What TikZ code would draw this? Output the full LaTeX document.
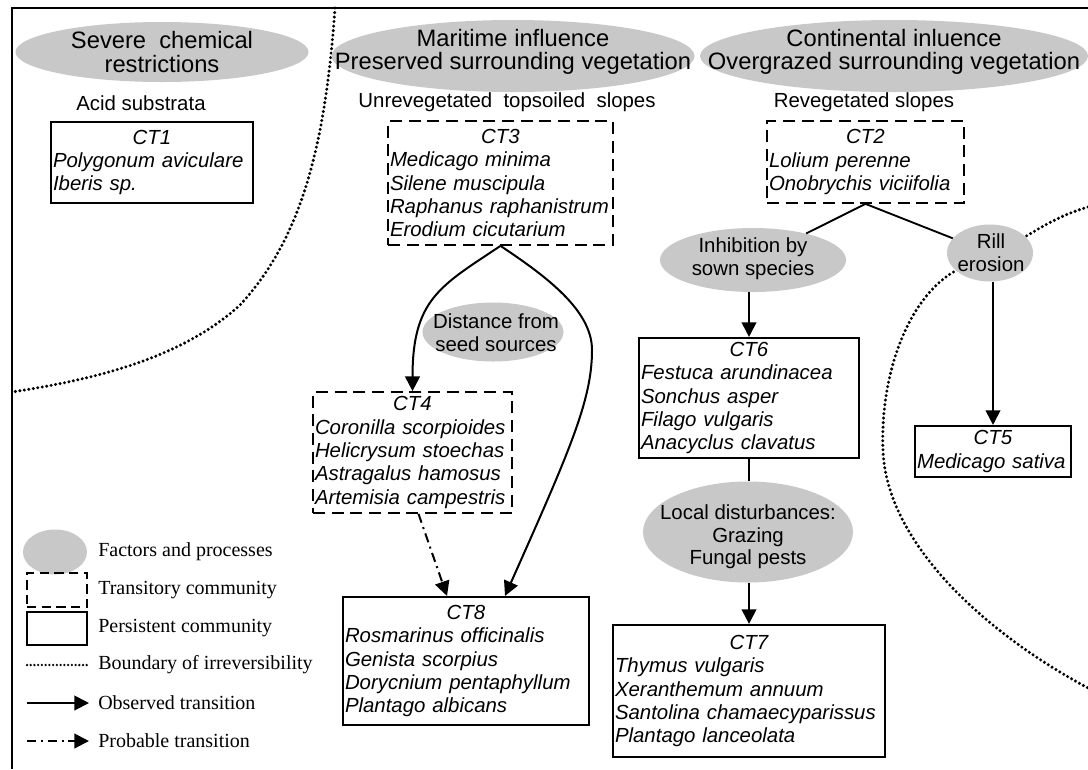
\documentclass[tikz,border=0pt]{standalone}
\usepackage{fontspec}
\setmainfont{Liberation Sans}
\newfontfamily\serifleg{Liberation Serif}
\usetikzlibrary{arrows.meta,shapes.geometric}
\definecolor{ellgray}{RGB}{200,200,200}
\newcommand\fBody{\fontsize{15.3}{17.5}\selectfont}
\newcommand\fTitle{\fontsize{17.8}{17.3}\selectfont}
\newcommand\fLab{\fontsize{15.3}{17.2}\selectfont}
\newcommand\fLoc{\fontsize{15.3}{16.8}\selectfont}
\newcommand\fLeg{\serifleg\fontsize{15}{18}\selectfont}
\newcommand\ctlabel[1]{\hspace*{\fill}#1\hspace*{\fill}\mbox{}}
\tikzset{
  frameline/.style={line width=2.2pt},
  solidbox/.style={draw, line width=1.6pt, rectangle, inner xsep=1.5pt, inner ysep=0pt, align=left, font=\fBody\itshape},
  dashbox/.style={solidbox, line width=1.3pt, dash pattern=on 9pt off 5pt},
  factor/.style={ellipse, fill=ellgray, draw=none, inner sep=0pt},
  titlelab/.style={align=center, font=\fTitle, inner sep=0pt},
  flab/.style={align=center, font=\fLab, inner sep=0pt},
  sublab/.style={font=\fBody, inner sep=0pt},
  conn/.style={line width=1.4pt},
  obs/.style={line width=1.5pt, -{Triangle[length=11pt,width=11pt]}},
  prob/.style={line width=1.5pt, dash pattern=on 7pt off 3.5pt on 1.5pt off 3.5pt, -{Triangle[length=11pt,width=11pt]}},
  boundary/.style={line width=2.5pt, dash pattern=on 0pt off 3.4pt, line cap=round},
  legdots/.style={line width=1.9pt, dash pattern=on 0pt off 2.8pt, line cap=round},
  legtext/.style={anchor=west, font=\fLeg, inner sep=0pt},
}
\begin{document}
\begin{tikzpicture}[x=0.75pt,y=-0.75pt]
\useasboundingbox (0,0) rectangle (1088,769);
\fill[white] (0,0) rectangle (1088,769);

% boundaries of irreversibility
\draw[boundary] (335,8) .. controls (325,150) and (300,240) .. (240,305) .. controls (180,360) and (90,380) .. (12,392);
\draw[boundary] (1088,207) .. controls (1060,215) and (1040,228) .. (1023,238) -- (955,271) .. controls (905,300) and (880,380) .. (883,450) .. controls (886,540) and (980,630) .. (1088,688);

% frame
\draw[frameline] (12,769) -- (12,8) -- (1088,8);

% top ellipses
\node[factor, minimum width=219.75pt, minimum height=45pt] (severe) at (162,52) {};
\node[titlelab] (severeT) at (162,52) {Severe\ \ chemical\\restrictions};
\node[factor, minimum width=272.25pt, minimum height=54pt] (marit) at (513,56) {};
\node[titlelab] (maritT) at (513,52) {Maritime influence\\Preserved surrounding vegetation};
\node[factor, minimum width=291pt, minimum height=54pt] (conti) at (894,56) {};
\node[titlelab] (contiT) at (894,52) {Continental inluence\\Overgrazed surrounding vegetation};

% sub labels
\node[sublab] (acid) at (141,103) {Acid substrata};
\node[sublab] (unrev) at (507,102) {Unrevegetated\ \ topsoiled\ \ slopes};
\node[sublab] (rev) at (864,102) {Revegetated slopes};

% community boxes
\node[solidbox, text width=148.5pt, minimum height=60.75pt] (ct1) at (152,162.5)
  {\ctlabel{CT1}\\Polygonum aviculare\\Iberis sp.};
\node[dashbox, text width=165.75pt, minimum height=93pt] (ct3) at (500.5,183)
  {\ctlabel{CT3}\\Medicago minima\\Silene muscipula\\Raphanus raphanistrum\\Erodium cicutarium};
\node[dashbox, text width=144.75pt, minimum height=61.5pt] (ct2) at (865.5,162)
  {\ctlabel{CT2}\\Lolium perenne\\Onobrychis viciifolia};
\node[dashbox, text width=146.25pt, minimum height=90.75pt] (ct4) at (412.5,452.5)
  {\ctlabel{CT4}\\Coronilla scorpioides\\Helicrysum stoechas\\Astragalus hamosus\\Artemisia campestris};
\node[solidbox, text width=181.5pt, minimum height=96pt] (ct8) at (466,661)
  {\ctlabel{CT8}\\Rosmarinus officinalis\\Genista scorpius\\Dorycnium pentaphyllum\\Plantago albicans};
\node[solidbox, text width=162pt, minimum height=90pt] (ct6) at (749,398)
  {\ctlabel{CT6}\\Festuca arundinacea\\Sonchus asper\\Filago vulgaris\\Anacyclus clavatus};
\node[solidbox, text width=201pt, minimum height=99pt] (ct7) at (749,691)
  {\ctlabel{CT7}\\Thymus vulgaris\\Xeranthemum annuum\\Santolina chamaecyparissus\\Plantago lanceolata\\[3pt]};
\node[solidbox, text width=114pt, minimum height=38.25pt] (ct5) at (993,451.5)
  {\ctlabel{CT5}\\Medicago sativa};

% factor ellipses
\node[factor, minimum width=105.75pt, minimum height=44.25pt] (dist) at (493,332) {};
\node[flab] (distT) at (496,333) {Distance from\\seed sources};
\node[factor, minimum width=139.5pt, minimum height=48pt] (inhib) at (753,260) {};
\node[flab] (inhibT) at (753,259) {Inhibition by\\sown species};
\node[factor, minimum width=64.5pt, minimum height=42.75pt] (rill) at (990,253) {};
\node[flab] (rillT) at (991,253) {Rill\\erosion};
\node[factor, minimum width=157.5pt, minimum height=75.75pt] (local) at (748,532) {};
\node[flab, font=\fLoc] (localT) at (748,537) {Local disturbances:\\Grazing\\Fungal pests};

% transitions
\coordinate (bulge) at (592,350);
\draw[obs] (ct3.south) .. controls +(-60,40) and +(0,-92) .. (ct4.north);
\draw[obs] (ct3.south) .. controls +(45,30) and (592,310) .. (bulge) .. controls (592,400) and (570,450) .. ([xshift=29.25pt]ct8.north);
\draw[prob] ([xshift=4.5pt]ct4.south) -- ([xshift=-14.25pt]ct8.north);
\draw[conn] (ct2.south) -- (inhib);
\draw[conn] (ct2.south) -- (rill);
\draw[obs] (inhib.south -| ct6.north) -- (ct6.north);
\draw[obs] (rill.south -| ct5.north) -- (ct5.north);
\draw[conn] (ct6.south) -- (ct6.south |- local.north);
\draw[obs] (local.south -| ct7.north) -- (ct7.north);

% legend
\node[factor, minimum width=48pt, minimum height=33.75pt] (legF) at (55,552) {};
\node[dashbox, minimum width=45pt, minimum height=25.5pt, dash pattern=on 7pt off 4pt] (legT) at (57,590) {};
\node[solidbox, minimum width=45pt, minimum height=24.75pt] (legP) at (57,628.5) {};
\coordinate (legB1) at (27,665); \coordinate (legB2) at (87,665);
\draw[legdots] (legB1) -- (legB2);
\coordinate (legO1) at (27,703); \coordinate (legO2) at (89,703);
\draw[obs] (legO1) -- (legO2);
\coordinate (legQ1) at (27,741); \coordinate (legQ2) at (89,741);
\draw[prob] (legQ1) -- (legQ2);
\node[legtext] (legFt) at (98,552) {Factors and processes};
\node[legtext] (legTt) at (98,590) {Transitory community};
\node[legtext] (legPt) at (98,628) {Persistent community};
\node[legtext] (legBt) at (98,665) {Boundary of irreversibility};
\node[legtext] (legOt) at (98,703) {Observed transition};
\node[legtext] (legQt) at (98,741) {Probable transition};
\end{tikzpicture}
\end{document}
